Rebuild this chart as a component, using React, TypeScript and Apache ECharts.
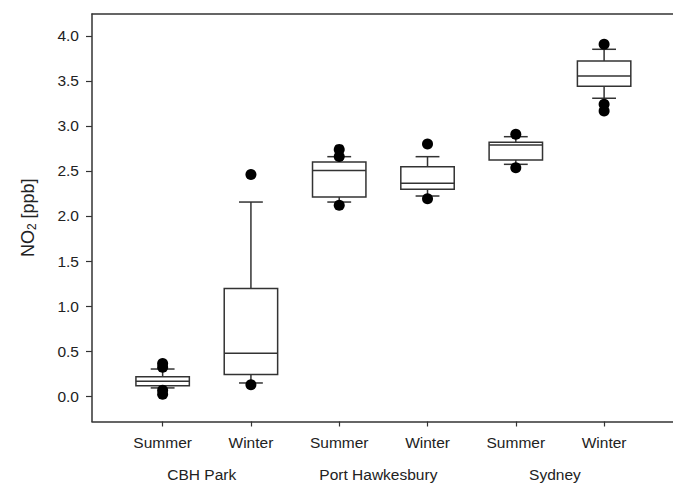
import React, { useEffect, useRef } from "react";
import * as echarts from "echarts";

const seasons = ["Summer", "Winter", "Summer", "Winter", "Summer", "Winter"];
const sites = ["CBH Park", "Port Hawkesbury", "Sydney"];
const positions = [1, 2, 3, 4, 5, 6];
const sitePositions = [1.5, 3.5, 5.5];
const whiskerLow = [0.09, 0.145, 2.155, 2.222, 2.574, 3.308];
const q1 = [0.115, 0.24, 2.21, 2.296, 2.622, 3.441];
const median = [0.165, 0.475, 2.505, 2.363, 2.789, 3.556];
const q3 = [0.215, 1.195, 2.6, 2.548, 2.819, 3.722];
const whiskerHigh = [0.3, 2.155, 2.659, 2.659, 2.881, 3.852];
const outliers: number[][] = [
  [0.36, 0.32, 0.065, 0.02],
  [2.46, 0.125],
  [2.74, 2.66, 2.12],
  [2.8, 2.192],
  [2.907, 2.537],
  [3.907, 3.241, 3.167],
];
const yTicks = [0, 0.5, 1, 1.5, 2, 2.5, 3, 3.5, 4];

const FONT = "'Liberation Sans', Arial, sans-serif";
const TEXT = "#222";
const LINE = "#333";

export default function App() {
  const ref = useRef<HTMLDivElement>(null);
  useEffect(() => {
    if (!ref.current) return;
    const chart = echarts.init(ref.current, null, { renderer: "svg" });
    const boxData = positions.map((p, i) => [p, whiskerLow[i], q1[i], median[i], q3[i], whiskerHigh[i]]);
    const outlierData: number[][] = [];
    outliers.forEach((arr, i) => arr.forEach((v) => outlierData.push([positions[i], v])));
    const boxWidth = 0.605;
    const capWidth = 0.27;
    chart.setOption({
      animation: false,
      grid: {
        left: 92,
        top: 14,
        width: 600.4,
        height: 407.5,
        outerBoundsMode: "none",
        containLabel: false,
        show: false,
      },
      xAxis: [
        {
          type: "value",
          min: 0.2,
          max: 7.0,
          position: "bottom",
          axisLine: { show: true, onZero: false, lineStyle: { color: LINE, width: 1.5 } },
          axisTick: { show: true, length: 5, customValues: positions, lineStyle: { color: LINE, width: 1.2 } },
          axisLabel: {
            customValues: positions,
            margin: 13,
            color: TEXT,
            fontFamily: FONT,
            fontSize: 15.5,
            formatter: (v: number) => seasons[positions.indexOf(Math.round(v))] ?? "",
          },
          splitLine: { show: false },
        },
        {
          type: "value",
          min: 0.2,
          max: 7.0,
          position: "bottom",
          offset: 0,
          axisLine: { show: false },
          axisTick: { show: false },
          axisLabel: {
            customValues: sitePositions,
            margin: 45,
            padding: [0, 10, 0, 0],
            color: TEXT,
            fontFamily: FONT,
            fontSize: 15.5,
            formatter: (v: number) => {
              const idx = sitePositions.findIndex((s) => Math.abs(s - v) < 1e-6);
              return idx >= 0 ? sites[idx] : "";
            },
          },
          splitLine: { show: false },
        },
        {
          type: "value",
          min: 0.2,
          max: 7.0,
          position: "top",
          axisLine: { show: true, onZero: false, lineStyle: { color: LINE, width: 1.5 } },
          axisTick: { show: false },
          axisLabel: { show: false },
          splitLine: { show: false },
        },
      ],
      yAxis: {
        type: "value",
        min: -0.283,
        max: 4.244,
        name: "NO{sub|2} [ppb]",
        nameLocation: "middle",
        nameGap: 54,
        nameRotate: 90,
        nameTextStyle: {
          color: TEXT,
          fontFamily: FONT,
          fontSize: 18,
          rich: { sub: { fontSize: 12, verticalAlign: "bottom", padding: [9, 0, 0, 0], color: TEXT, fontFamily: FONT } },
        },
        axisLine: { show: true, onZero: false, lineStyle: { color: LINE, width: 1.5 } },
        axisTick: { show: true, length: 6, customValues: yTicks, lineStyle: { color: LINE, width: 1.2 } },
        axisLabel: {
          customValues: yTicks,
          margin: 13,
          color: TEXT,
          fontFamily: FONT,
          fontSize: 15.5,
          formatter: (v: number) => v.toFixed(1),
        },
        splitLine: { show: false },
      },
      series: [
        {
          type: "custom",
          xAxisIndex: 0,
          yAxisIndex: 0,
          data: boxData,
          encode: { x: 0, y: [1, 2, 3, 4, 5] },
          renderItem: (params: any, api: any) => {
            const x = api.value(0);
            const pLow = api.coord([x, api.value(1)]);
            const pQ1 = api.coord([x, api.value(2)]);
            const pMed = api.coord([x, api.value(3)]);
            const pQ3 = api.coord([x, api.value(4)]);
            const pHigh = api.coord([x, api.value(5)]);
            const bw = api.size([boxWidth, 0])[0];
            const cw = api.size([capWidth, 0])[0];
            const cx = pQ1[0];
            const style = { stroke: LINE, lineWidth: 1.5, fill: "none" };
            return {
              type: "group",
              children: [
                { type: "line", shape: { x1: cx, y1: pQ3[1], x2: cx, y2: pHigh[1] }, style },
                { type: "line", shape: { x1: cx, y1: pQ1[1], x2: cx, y2: pLow[1] }, style },
                { type: "line", shape: { x1: cx - cw / 2, y1: pHigh[1], x2: cx + cw / 2, y2: pHigh[1] }, style },
                { type: "line", shape: { x1: cx - cw / 2, y1: pLow[1], x2: cx + cw / 2, y2: pLow[1] }, style },
                {
                  type: "rect",
                  shape: { x: cx - bw / 2, y: pQ3[1], width: bw, height: pQ1[1] - pQ3[1] },
                  style: { stroke: LINE, lineWidth: 1.5, fill: "#fff" },
                },
                { type: "line", shape: { x1: cx - bw / 2, y1: pMed[1], x2: cx + bw / 2, y2: pMed[1] }, style },
              ],
            };
          },
        },
        {
          type: "scatter",
          xAxisIndex: 0,
          yAxisIndex: 0,
          data: outlierData,
          symbol: "circle",
          symbolSize: 11,
          itemStyle: { color: "#000", opacity: 1 },
          z: 5,
        },
      ],
    });
    return () => chart.dispose();
  }, []);
  return (
    <div
      ref={ref}
      style={{ position: "fixed", left: 0, top: 0, width: 673, height: 487, background: "#fff" }}
    />
  );
}
